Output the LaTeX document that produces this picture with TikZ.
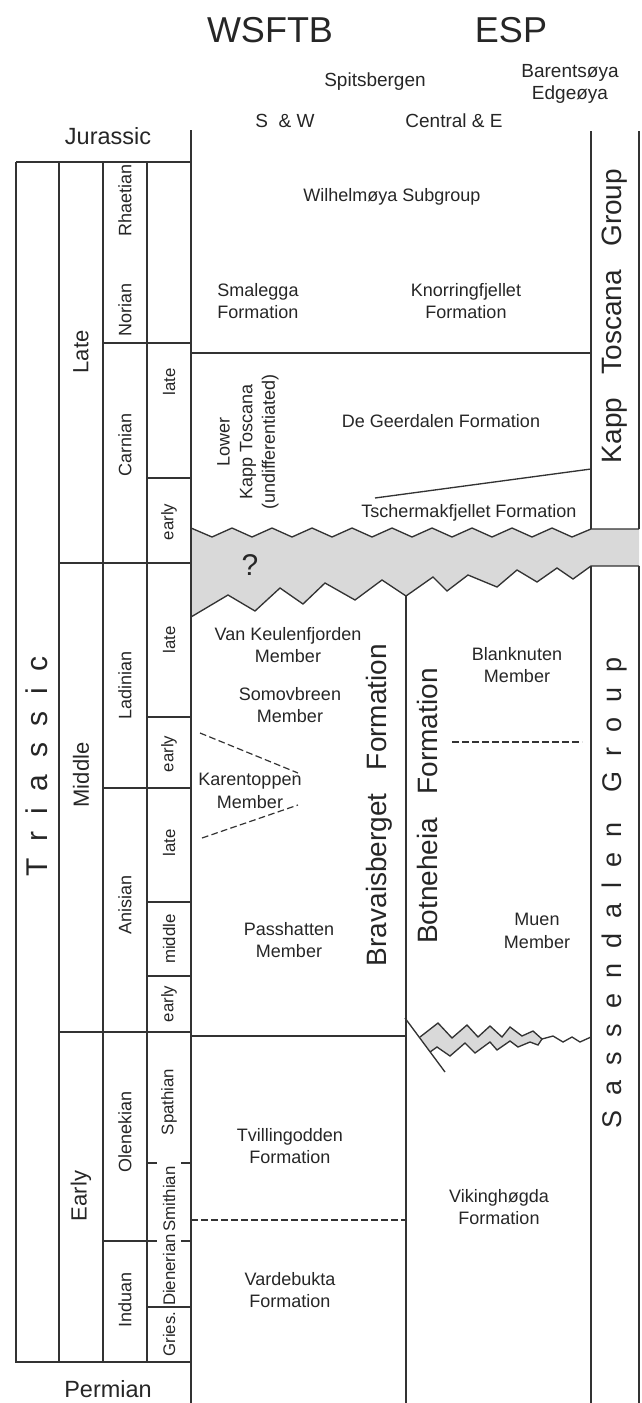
\documentclass[tikz,border=0pt]{standalone}
\usepackage{fontspec}
\setmainfont{Liberation Sans}
\usepackage{xcolor}

\begin{document}
\begin{tikzpicture}[x=0.75pt,y=0.75pt,yscale=-1,
    ln/.style={line width=1pt, draw=black!80},
    dsh/.style={line width=0.9pt, draw=black!80, dash pattern=on 5pt off 2.5pt},
    txt/.style={align=center, inner sep=0pt, text=black!85, font=\fontsize{13.5}{17}\selectfont},
    vtxt/.style={txt, rotate=90},
    subtxt/.style={vtxt, font=\fontsize{12.6}{15}\selectfont},
    hdr/.style={txt, font=\fontsize{14.25}{17}\selectfont},
    per/.style={txt, font=\fontsize{17.6}{20}\selectfont},
    ttl/.style={txt, font=\fontsize{27}{30}\selectfont},
    epoch/.style={vtxt, font=\fontsize{16.5}{20}\selectfont},
    grp/.style={vtxt, font=\fontsize{21}{25}\selectfont}]

    \useasboundingbox (0,0) rectangle (642,1403);

    % hiatus band
    \fill[black!15] (191,528) \foreach \k in {0,...,8} {-- ({212+40*\k},537) -- ({232+40*\k},528)} -- (572,537) -- (591,529)
        -- (639,529) -- (639,566) -- (591,566) -- (573,579) -- (557,568) -- (537,582) -- (517,570) -- (497,587) -- (468,575)
        -- (447,591) -- (433,577) -- (406,596) -- (382,580) -- (355,600) -- (325,583) -- (303,604) -- (280,588) -- (255,611)
        -- (228,595) -- (191,617) -- cycle;
    \draw[ln] (191,528) \foreach \k in {0,...,8} {-- ({212+40*\k},537) -- ({232+40*\k},528)} -- (572,537) -- (591,529) -- (639,529);
    \draw[ln] (639,566) -- (591,566) -- (573,579) -- (557,568) -- (537,582) -- (517,570) -- (497,587) -- (468,575)
        -- (447,591) -- (433,577) -- (406,596) -- (382,580) -- (355,600) -- (325,583) -- (303,604) -- (280,588) -- (255,611)
        -- (228,595) -- (191,617);

    % lens in Botneheia / Vikinghogda
    \filldraw[ln, fill=black!15] (420,1037) -- (438,1023) -- (452,1038) -- (467,1025) -- (478,1037) -- (490,1026) -- (502,1037)
        -- (510,1027) -- (522,1036) -- (533,1031) -- (542,1039) -- (538,1045) -- (530,1042) -- (518,1047) -- (510,1041)
        -- (497,1050) -- (490,1042) -- (475,1053) -- (465,1043) -- (450,1056) -- (437,1047) -- (430,1052);
    \draw[ln] (542,1039) -- (553,1036) -- (563,1042) -- (572,1037) -- (580,1042) -- (591,1037);
    \draw[ln] (405,1018) -- (445,1072);

    % columns
    \foreach \xx in {16,59,103,147} \draw[ln] (\xx,162) -- (\xx,1362);
    \draw[ln] (191,130) -- (191,1403);
    \draw[ln] (591,131) -- (591,529) (639,131) -- (639,529);
    \draw[ln] (591,566) -- (591,1403) (639,566) -- (639,1403);
    \draw[ln] (406,596) -- (406,1403);

    % time lines
    \draw[ln] (16,162) -- (191,162);
    \draw[ln] (15,1362) -- (191,1362);
    \draw[ln] (103,343) -- (191,343);
    \draw[ln] (191,353) -- (591,353);
    \draw[ln] (59,563) -- (191,563);
    \draw[ln] (103,788) -- (191,788);
    \draw[ln] (59,1032) -- (191,1032);
    \draw[ln] (191,1036) -- (406,1036);
    \foreach \yy in {478,717,902,976,1307} \draw[ln] (147,\yy) -- (191,\yy);
    \draw[ln] (103,1241) -- (147,1241);
    \foreach \yy in {1163,1241} \draw[ln] (147,\yy) -- (157,\yy) (181,\yy) -- (191,\yy);

    % facies boundaries
    \draw[ln] (375,498) -- (591,469);
    \draw[dsh] (200,733) -- (298,773);
    \draw[dsh] (202,838) -- (298,805);
    \draw[dsh] (452,742) -- (582,742);
    \draw[dsh] (191,1220) -- (406,1220);

    % headings
    \draw (270,30) node [ttl] (wsftb) {WSFTB};
    \draw (511,30) node [ttl] (esp) {ESP};
    \draw (375,82) node [hdr] (spits) {Spitsbergen};
    \draw (570,84) node [hdr] (barents) {Barentsøya\\Edgeøya};
    \draw (285,121) node [hdr] (sw) {S~~\& W};
    \draw (454,121) node [hdr] (centr) {Central \& E};
    \draw (108,136) node [per] (jur) {Jurassic};
    \draw (108,1389) node [per] (perm) {Permian};

    % chronostratigraphy
    \draw (37,766) node [vtxt, font=\fontsize{22.5}{25}\selectfont] (trias) {T~~r~~i~~a~~s~~s~~i~~c};
    \draw (81,352) node [epoch] (late) {Late};
    \draw (81,775) node [epoch] (middle) {Middle};
    \draw (81,1196) node [epoch] (early) {Early};
    \foreach \yy/\nm [count=\i] in {200/Rhaetian, 310/Norian, 445/Carnian, 685/Ladinian, 905/Anisian, 1132/Olenekian, 1300/Induan}
        \draw (125,\yy) node [vtxt] (stage\i) {\nm};
    \foreach \yy/\nm [count=\i] in {382/late, 522/early, 640/late, 754/early, 843/late, 939/middle, 1004/early,
        1102/Spathian, 1199/Smithian, 1270/Dienerian, 1334/Gries.}
        \draw (169,\yy) node [subtxt] (sub\i) {\nm};

    % lithostratigraphy
    \draw (392,197) node [txt] (wilh) {Wilhelmøya Subgroup};
    \draw (258,301) node [txt] (smal) {Smalegga\\Formation};
    \draw (466,301) node [txt] (knorr) {Knorringfjellet\\Formation};
    \draw (248,442) node [vtxt] (lowkt) {Lower\\Kapp Toscana\\(undifferentiated)};
    \draw (441,421) node [txt] (geer) {De Geerdalen Formation};
    \draw (469,513) node [txt] (tscher) {Tschermakfjellet Formation};
    \draw (250,565) node [txt, font=\fontsize{22.5}{25}\selectfont] (qm) {?};
    \draw (288,645) node [txt] (vkeul) {Van Keulenfjorden\\Member};
    \draw (290,705) node [txt] (somov) {Somovbreen\\Member};
    \draw (250,791) node [txt] (karen) {Karentoppen\\Member};
    \draw (517,665) node [txt] (blank) {Blanknuten\\Member};
    \draw (289,940) node [txt] (passh) {Passhatten\\Member};
    \draw (537,931) node [txt] (muen) {Muen\\Member};
    \draw (290,1146) node [txt] (tvill) {Tvillingodden\\Formation};
    \draw (499,1207) node [txt] (viking) {Vikinghøgda\\Formation};
    \draw (290,1290) node [txt] (varde) {Vardebukta\\Formation};
    \draw (379,805) node [grp] (brav) {Bravaisberget~~~Formation};
    \draw (427,806) node [grp] (botn) {Botneheia~~~Formation};
    \draw (615,316) node [grp] (kapp) {Kapp~~~Toscana~~~Group};
    \draw (615,893) node [grp, font=\fontsize{20.25}{24}\selectfont] (sass) {S~~a~~s~~s~~e~~n~~d~~a~~l~~e~~n~~~~G~~r~~o~~u~~p};

\end{tikzpicture}
\end{document}
